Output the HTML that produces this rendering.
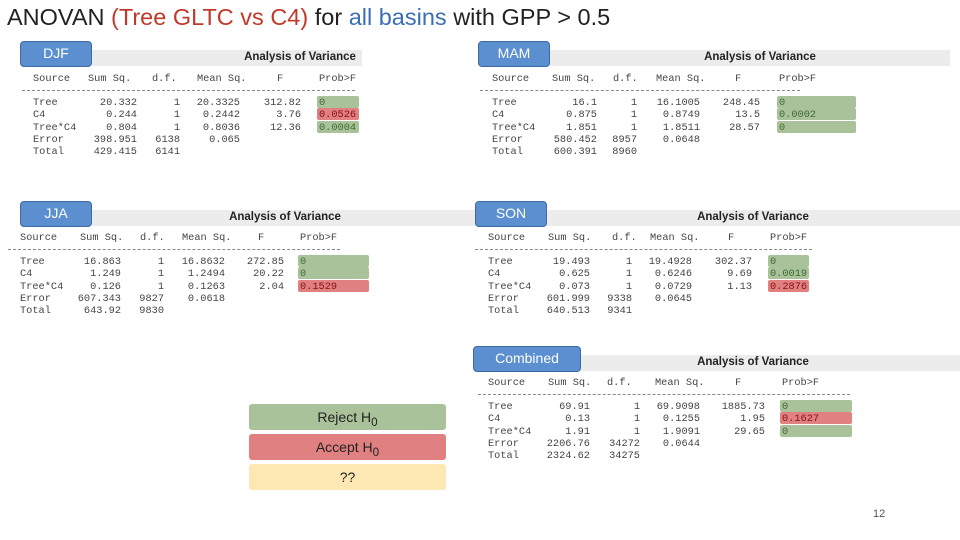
<!DOCTYPE html>
<html><head><meta charset="utf-8">
<style>
body{margin:0;width:960px;height:540px;background:#fff;position:relative;overflow:hidden;font-family:"Liberation Sans",sans-serif}
.t{position:absolute;white-space:nowrap}
.mono{font-family:"Liberation Mono",monospace;font-size:10.3px;color:#444;line-height:12px}
.lbl{position:absolute;background:#5b8fd0;border:1.5px solid #3d6aa3;border-radius:4px;color:#fff;font-size:14px;text-align:center;box-sizing:border-box}
.band{position:absolute;background:#ececec;height:16px}
.aov{position:absolute;font-weight:bold;font-size:11.5px;color:#222;transform:translateX(-50%)}
.hl{position:absolute;height:12px;border-radius:2px}
.leg{position:absolute;left:249px;width:197px;height:26px;border-radius:3px;text-align:center;font-size:14px;line-height:26px;color:#222}
</style></head><body>
<div class="t" style="left:7px;top:4px;font-size:23.5px;color:#222">ANOVAN <span style="color:#c0392b">(Tree GLTC vs C4)</span> for <span style="color:#3b6eb5">all basins</span> with GPP &gt; 0.5</div>
<div id="root"></div>
<div class="leg" style="top:404px;background:#a9c29a">Reject H<sub>0</sub></div>
<div class="leg" style="top:434px;background:#e08080">Accept H<sub>0</sub></div>
<div class="leg" style="top:464px;background:#fde8b3">??</div>
<div class="t" style="left:873px;top:508px;font-size:11px;color:#555">12</div>
<script>
const sources=["Tree","C4","Tree*C4","Error","Total"];
const djfRows=[["20.332","1","20.3325","312.82","0"],["0.244","1","0.2442","3.76","0.0526"],["0.804","1","0.8036","12.36","0.0004"],["398.951","6138","0.065","",""],["429.415","6141","","",""]];
const mamRows=[["16.1","1","16.1005","248.45","0"],["0.875","1","0.8749","13.5","0.0002"],["1.851","1","1.8511","28.57","0"],["580.452","8957","0.0648","",""],["600.391","8960","","",""]];
const jjaRows=[["16.863","1","16.8632","272.85","0"],["1.249","1","1.2494","20.22","0"],["0.126","1","0.1263","2.04","0.1529"],["607.343","9827","0.0618","",""],["643.92","9830","","",""]];
const sonRows=[["19.493","1","19.4928","302.37","0"],["0.625","1","0.6246","9.69","0.0019"],["0.073","1","0.0729","1.13","0.2876"],["601.999","9338","0.0645","",""],["640.513","9341","","",""]];
const combRows=[["69.91","1","69.9098","1885.73","0"],["0.13","1","0.1255","1.95","0.1627"],["1.91","1","1.9091","29.65","0"],["2206.76","34272","0.0644","",""],["2324.62","34275","","",""]];
const djfSig=["r","a","r"],mamSig=["r","r","r"],jjaSig=["r","r","a"],sonSig=["r","r","a"],combSig=["r","a","r"];
const tables=[
 {name:"djf",label:"DJF",rows:djfRows,sig:djfSig,lx:20,lw:72,ly:41,bandEnd:362,title:300,hy:72,src:33,cols:[137,180,240,301],prob:319,hlw:42,dash:[22,355],hx:[88,152,197,277]},
 {name:"mam",label:"MAM",rows:mamRows,sig:mamSig,lx:478,lw:72,ly:41,bandEnd:950,title:760,hy:72,src:492,cols:[597,637,700,760],prob:779,hlw:79,dash:[480,800],hx:[552,613,656,735]},
 {name:"jja",label:"JJA",rows:jjaRows,sig:jjaSig,lx:20,lw:72,ly:201,bandEnd:960,title:285,hy:231,src:20,cols:[121,164,225,284],prob:300,hlw:71,dash:[8,340],hx:[80,140,182,258]},
 {name:"son",label:"SON",rows:sonRows,sig:sonSig,lx:475,lw:72,ly:201,bandEnd:960,title:753,hy:231,src:488,cols:[590,632,692,752],prob:770,hlw:41,dash:[475,812],hx:[548,612,650,728]},
 {name:"combined",label:"Combined",rows:combRows,sig:combSig,lx:473,lw:108,ly:346,bandEnd:960,title:753,hy:376,src:488,cols:[590,640,700,765],prob:782,hlw:72,dash:[478,850],hx:[548,607,655,735]}
];
const root=document.getElementById('root');
function add(html){const d=document.createElement('div');d.innerHTML=html;const e=d.firstChild;root.appendChild(e);return e;}
tables.forEach(t=>{
 let e=add(`<div class="band" style="left:${t.lx+t.lw}px;top:${t.ly+9}px;width:${t.bandEnd-t.lx-t.lw}px"></div>`);
 
 
 e=add(`<div class="aov" style="left:${t.title}px;top:${t.ly+10}px">Analysis of Variance</div>`);
 
 
 e=add(`<div class="lbl" style="left:${t.lx}px;top:${t.ly}px;width:${t.lw}px;height:26px;line-height:23px">${t.label}</div>`);
 
 
 const heads=["Source","Sum Sq.","d.f.","Mean Sq.","F","Prob>F"];
 const hxs=[t.src].concat(t.hx).concat([t.prob]);
 heads.forEach((h,i)=>{
  e=add(`<div class="t mono" style="left:${hxs[i]}px;top:${t.hy+1}px">${h.replace('>','&gt;')}</div>`);
  
  
 });
 e=add(`<div class="t" style="left:${t.dash[0]}px;top:${t.hy+18}px;width:${t.dash[1]-t.dash[0]}px;border-top:1px dashed #888"></div>`);
 
 
 const y0=t.hy+24;
 t.rows.forEach((r,i)=>{
  const y=y0+i*12.3;
  if(i<3){
   e=add(`<div class="hl" style="left:${t.prob-2}px;top:${y}px;width:${t.hlw}px;background:${t.sig[i]=='r'?'#a9c29a':'#e08080'}"></div>`);
   
   
  }
  e=add(`<div class="t mono" style="left:${t.src}px;top:${y+1}px">${sources[i]}</div>`);
  
  
  for(let c=0;c<4;c++){
   if(!r[c])continue;
   e=add(`<div class="t mono" style="right:${960-t.cols[c]}px;top:${y+1}px">${r[c]}</div>`);
   
   
  }
  if(r[4]){
   e=add(`<div class="t mono" style="left:${t.prob}px;top:${y+1}px;color:${t.sig[i]=='a'?'#8a1010':'#3f6a35'}">${r[4]}</div>`);
   
   
  }
 });
});
</script>
</body></html>
